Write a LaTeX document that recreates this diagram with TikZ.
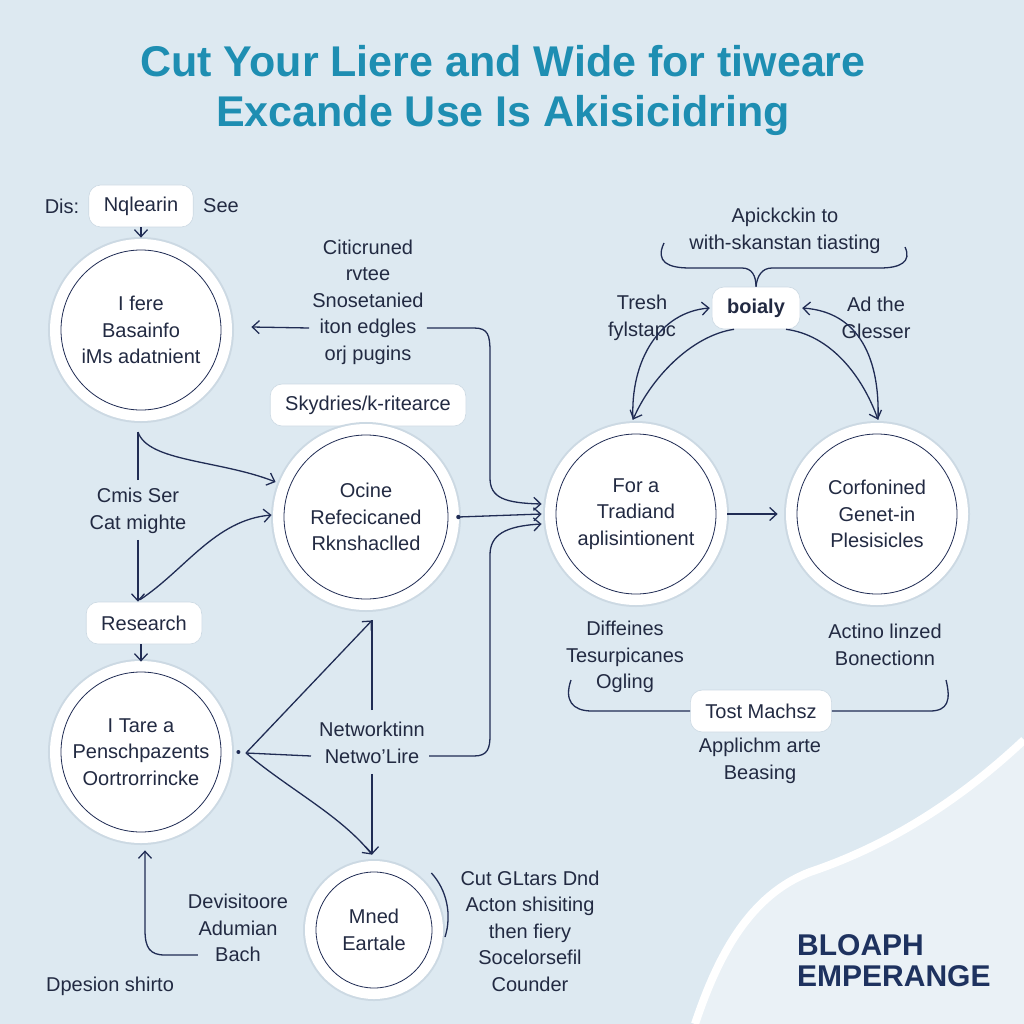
\documentclass[tikz,border=0pt]{standalone}
\usepackage{fontspec}
\setmainfont{Liberation Sans}
\usetikzlibrary{arrows.meta,calc}
\definecolor{bg}{RGB}{221,233,241}
\definecolor{bglight}{RGB}{234,241,246}
\definecolor{navy}{RGB}{32,44,84}
\definecolor{ink}{RGB}{34,42,66}
\definecolor{titleteal}{RGB}{30,142,178}
\definecolor{brand}{RGB}{30,50,95}
\definecolor{ringshade}{RGB}{204,217,227}
\tikzset{
  txt/.style={font=\fontsize{20}{26.5}\selectfont, text=ink, align=center, inner sep=0pt},
  bigc/.style={txt, circle, draw=navy, line width=0.8pt, fill=white, minimum size=#1,
    preaction={draw=ringshade, line width=26pt}, preaction={draw=white, line width=22pt}},
  pill/.style={txt, rounded corners=12pt, fill=white, draw=ringshade, line width=0.6pt,
    minimum height=42pt, inner xsep=15pt},
  ln/.style={draw=navy, line width=1.3pt},
  arr/.style={ln, -{Straight Barb[length=7pt,width=13pt]}},
}
\begin{document}
\begin{tikzpicture}[x=1pt,y=-1pt]
\useasboundingbox (0,0) rectangle (1024,1024);
\fill[bg] (0,0) rectangle (1024,1024);
\fill[bglight] (1024,740) .. controls (960,800) and (890,845) .. (810,872) .. controls (750,895) and (718,955) .. (695,1024) -- (1024,1024) -- cycle;
\draw[white, line width=8pt] (1024,740) .. controls (960,800) and (890,845) .. (810,872) .. controls (750,895) and (718,955) .. (695,1024);

% title
\node[font=\fontsize{43}{50}\selectfont\bfseries, text=titleteal, align=center, inner sep=0pt] (title) at (503,90) {Cut Your Liere and Wide for tiweare\\Excande Use Is Akisicidring};

% left column
\node[pill] (nq) at (141,206) {Nqlearin};
\node[txt] (dis) at (62,206) {Dis:};
\node[txt] (see) at (221,206) {See};
\node[bigc=160] (c1) at (141,330) {I fere\\Basainfo\\iMs adatnient};
\node[txt] (cit) at (368,302) {Citicruned\\rvtee\\Snosetanied\\iton edgles\\orj pugins};
\node[pill] (sky) at (368,405) {Skydries/k-ritearce};
\node[bigc=164] (c2) at (366,517) {Ocine\\Refecicaned\\Rknshaclled};
\node[txt] (cmis) at (138,511) {Cmis Ser\\Cat mighte};
\node[pill] (res) at (144,623) {Research};
\node[bigc=160] (c3) at (141,752) {I Tare a\\Penschpazents\\Oortrorrincke};
\node[txt] (net) at (372,743) {Networktinn\\Netwo'Lire};
\node[bigc=116] (c6) at (374,930) {Mned\\Eartale};
\node[txt] (dev) at (238,928) {Devisitoore\\Adumian\\Bach};
\node[txt] (dpe) at (110,986) {Dpesion shirto};
\node[txt] (cut) at (530,931) {Cut GLtars Dnd\\Acton shisiting\\then fiery\\Socelorsefil\\Counder};

% right part
\node[bigc=160] (c4) at (636,514) {For a\\Tradiand\\aplisintionent};
\node[bigc=160] (c5) at (877,514) {Corfonined\\Genet-in\\Plesisicles};
\node[txt] (apk) at (785,231) {Apickckin to\\with-skanstan tiasting};
\node[pill, font=\fontsize{20}{26.5}\selectfont\bfseries] (boi) at (756,308) {boialy};
\node[txt] (tresh) at (642,318) {Tresh\\fylstapc};
\node[txt] (adthe) at (876,318) {Ad the\\Glesser};
\node[txt] (diff) at (625,657) {Diffeines\\Tesurpicanes\\Ogling};
\node[txt] (acti) at (885,645) {Actino linzed\\Bonectionn};
\node[pill] (tost) at (761,711) {Tost Machsz};
\node[txt] (appl) at (760,761) {Applichm arte\\Beasing};
\node[font=\fontsize{30}{31}\selectfont\bfseries, text=brand, align=left, anchor=west, inner sep=0pt] (brandname) at (797,961) {BLOAPH\\EMPERANGE};

% connectors left
\draw[arr, shorten >=12pt] (nq.south) -- (c1.north);
\draw[arr] ([xshift=-3pt,yshift=-26pt]cit.west) -- ([xshift=30pt,yshift=3pt]c1.east);
\draw[arr] ([xshift=3pt,yshift=-26pt]cit.east) -- (474,328) .. controls (488,328) and (490,335) .. (490,352) -- (490,478) .. controls (490,498) and (505,503) .. ([xshift=-14pt,yshift=10pt]c4.west);
\fill[navy] ([xshift=10pt]c2.east) circle (2.2);
\draw[arr] ([xshift=10pt]c2.east) -- ([xshift=-14pt]c4.west);
\draw[arr] ([xshift=4pt,yshift=-13pt]net.east) -- (474,756) .. controls (488,756) and (490,748) .. (490,735) -- (490,555) .. controls (490,535) and (505,526) .. ([xshift=-14pt,yshift=-10pt]c4.west);
\draw[arr] ([xshift=11pt]c4.east) -- ([xshift=-19pt]c5.west);

\coordinate (j1) at (138,432);
\draw[ln] ([yshift=8pt]cmis.north) -- (j1);
\draw[arr] (j1) .. controls (148,462) and (220,460) .. ([xshift=-8pt,yshift=35pt]c2.west);
\draw[arr] ([yshift=-6pt]cmis.south) -- ([xshift=-6pt]res.north);
\draw[arr] ([xshift=-4pt,yshift=2pt]res.north) .. controls (185,570) and (215,520) .. ([xshift=-12pt,yshift=2pt]c2.west);
\draw[arr] ([xshift=-3pt]res.south) -- ([yshift=10pt]c3.north);

\coordinate (j3) at (246,753);
\fill[navy] ([xshift=17pt]c3.east) circle (2);
\draw[ln] (j3) -- ([xshift=-8pt,yshift=-13pt]net.west);
\draw[arr] (j3) -- ([xshift=6pt,yshift=-21pt]c2.south);
\draw[ln] ([yshift=12pt]net.north) -- ([xshift=6pt,yshift=-21pt]c2.south);
\draw[arr] (j3) .. controls (290,790) and (340,815) .. ([xshift=-2pt,yshift=17pt]c6.north);
\draw[arr] ([yshift=-10pt]net.south) -- ([xshift=-2pt,yshift=17pt]c6.north);
\draw[arr] ([xshift=10pt,yshift=-27pt]dev.west) -- (165,955) .. controls (150,955) and (145,948) .. (145,930) -- ([xshift=4pt,yshift=-18pt]c3.south);
\draw[ln] ([xshift=-1pt,yshift=57pt]c6.east) .. controls (447,890) and (452,915) .. (445,937);

% connectors right
\draw[ln] (664,243) .. controls (655,262) and (668,268) .. (690,268) -- (742,268) .. controls (752,268) and (756,276) .. (boi.north);
\draw[ln] (905,247) .. controls (912,262) and (900,268) .. (880,268) -- (772,268) .. controls (762,268) and (757,276) .. (boi.north);
\draw[arr] ([xshift=-3pt,yshift=14pt]c4.north) .. controls (630,360) and (660,312) .. ([xshift=-2pt]boi.west);
\draw[arr] ([xshift=-22pt]boi.south) .. controls (690,336) and (650,380) .. ([xshift=-3pt,yshift=14pt]c4.north);
\draw[arr] ([xshift=1pt,yshift=14pt]c5.north) .. controls (880,360) and (860,312) .. ([xshift=2pt]boi.east);
\draw[arr] ([xshift=30pt]boi.south) .. controls (830,335) and (862,375) .. ([xshift=1pt,yshift=14pt]c5.north);
\draw[ln] (571,680) .. controls (564,700) and (572,711) .. (592,711) -- (tost.west);
\draw[ln] (tost.east) -- (930,711) .. controls (948,711) and (951,700) .. (946,680);
\end{tikzpicture}
\end{document}
